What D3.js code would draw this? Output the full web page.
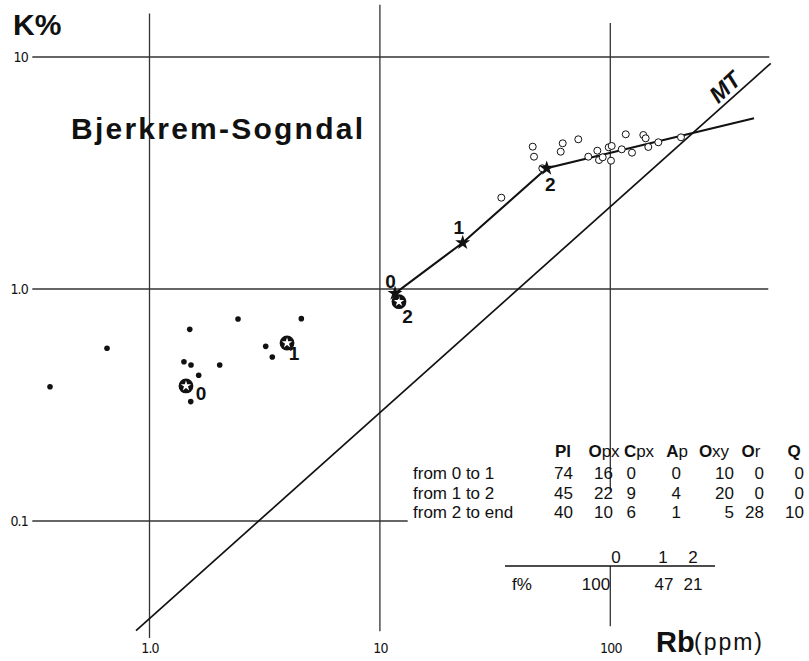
<!DOCTYPE html>
<html>
<head>
<meta charset="utf-8">
<script src="https://cdn.jsdelivr.net/npm/d3@7"></script>
<style>
  body { margin: 0; background: #fff; }
  svg { display: block; font-family: "Liberation Sans", Arial, sans-serif; }
</style>
</head>
<body>
<div id="chart"></div>
<script>
const width = 809, height = 661;

// axes
const xTicks = [1, 10, 100];
const xTickLabels = ["1.0", "10", "100"];
const yTicks = [0.1, 1, 10];
const yTickLabels = ["0.1", "1.0", "10"];

// filled dots (Rb ppm, K %)
const dotRb = [0.370, 0.654, 1.495, 1.411, 1.514, 1.635, 1.510, 2.017, 2.422, 3.194, 3.412, 4.560];
const dotK  = [0.379, 0.555, 0.670, 0.486, 0.470, 0.425, 0.327, 0.470, 0.743, 0.566, 0.509, 0.745];

// open circles
const circRb = [46.05, 46.65, 62.15, 60.92, 72.62, 33.65, 50.68, 80.27, 87.83, 89.33, 92.69,
                98.42, 101.4, 100.7, 112.1, 116.7, 124.2, 139.1, 142.4, 146.2, 161.6, 202.7];
const circK  = [4.107, 3.718, 4.246, 3.907, 4.418, 2.475, 3.313, 3.718, 3.946, 3.597, 3.696,
                4.082, 4.135, 3.573, 4.001, 4.643, 3.869, 4.611, 4.462, 4.094, 4.289, 4.507];

// differentiation path, first three points are the stars 0, 1, 2
const pathRb = [11.63, 22.88, 52.97, 120.9, 420.5];
const pathK  = [0.958, 1.583, 3.313, 4.042, 5.442];
const starLabels = ["0", "1", "2"];

// open stars
const openRb = [1.440, 3.953, 12.10];
const openK  = [0.382, 0.585, 0.882];
const openLabels = ["0", "1", "2"];

// MT line
const mtRb = [0.874, 496.9];
const mtK  = [0.0337, 9.39];

// table
const minerals = ["Pl", "Opx", "Cpx", "Ap", "Oxy", "Or", "Q"];
const stages = ["from 0 to 1", "from 1 to 2", "from 2 to end"];
const modes = [
  [74, 16, 0, 0, 10, 0, 0],
  [45, 22, 9, 4, 20, 0, 0],
  [40, 10, 6, 1, 5, 28, 10]
];
const fStages = ["0", "1", "2"];
const fValues = [100, 47, 21];

const svg = d3.select("#chart").append("svg")
  .attr("width", width)
  .attr("height", height);

const x = d3.scaleLog().domain([1, 100]).range([149.5, 610.3]);
const y = d3.scaleLog().domain([0.1, 10]).range([521, 57]);

const ink = "#111";

// grid lines (extents in data units)
const hGrid = [
  {k: 10, from: 0.31, to: 490},
  {k: 1, from: 0.31, to: 485},
  {k: 0.1, from: 0.31, to: 13.2}
];
const vGrid = [
  {rb: 1, segs: [[0.0313, 15.4]]},
  {rb: 10, segs: [[0.0335, 16.8]]},
  {rb: 100, segs: [[0.0352, 0.064], [0.135, 14.0]]}
];

svg.append("g").selectAll("line")
  .data(hGrid)
  .join("line")
  .attr("x1", d => x(d.from))
  .attr("x2", d => x(d.to))
  .attr("y1", d => y(d.k))
  .attr("y2", d => y(d.k))
  .attr("stroke", "#333")
  .attr("stroke-width", 1.3);

vGrid.forEach(v => {
  svg.append("g").selectAll("line")
    .data(v.segs)
    .join("line")
    .attr("x1", x(v.rb))
    .attr("x2", x(v.rb))
    .attr("y1", d => y(d[0]))
    .attr("y2", d => y(d[1]))
    .attr("stroke", "#333")
    .attr("stroke-width", 1.3);
});

// tick labels via axes
const tickFont = "\"Liberation Sans Narrow\", \"DejaVu Sans Condensed\", sans-serif";

svg.append("g")
  .attr("transform", "translate(0,643)")
  .call(d3.axisBottom(x).tickValues(xTicks).tickFormat((d, i) => xTickLabels[i]).tickSize(0).tickPadding(0))
  .call(g => g.select(".domain").remove())
  .selectAll("text")
  .attr("fill", ink)
  .style("font-family", tickFont)
  .style("font-size", "14px")
  .style("letter-spacing", "-0.8px");

svg.append("g")
  .attr("transform", "translate(28,0)")
  .call(d3.axisLeft(y).tickValues(yTicks).tickFormat((d, i) => yTickLabels[i]).tickSize(0).tickPadding(0))
  .call(g => g.select(".domain").remove())
  .selectAll("text")
  .attr("fill", ink)
  .style("font-family", tickFont)
  .style("font-size", "14px")
  .style("letter-spacing", "-0.8px");

// axis titles
svg.append("text")
  .attr("x", 13)
  .attr("y", 35)
  .attr("fill", ink)
  .style("font-size", "30px")
  .style("font-weight", "bold")
  .text("K%");

svg.append("text")
  .attr("x", 656)
  .attr("y", 652)
  .attr("fill", ink)
  .style("font-size", "29px")
  .style("font-weight", "bold")
  .text("Rb");

svg.append("text")
  .attr("x", 694)
  .attr("y", 650)
  .attr("fill", ink)
  .attr("textLength", 68)
  .attr("lengthAdjust", "spacing")
  .style("font-size", "23px")
  .text("(ppm)");

// title
svg.append("text")
  .attr("x", 71)
  .attr("y", 139)
  .attr("fill", ink)
  .attr("textLength", 292)
  .attr("lengthAdjust", "spacing")
  .style("font-size", "30px")
  .style("font-weight", "bold")
  .text("Bjerkrem-Sogndal");

// MT line
const line = d3.line().x(d => x(d[0])).y(d => y(d[1]));

svg.append("path")
  .attr("d", line(d3.zip(mtRb, mtK)))
  .attr("fill", "none")
  .attr("stroke", ink)
  .attr("stroke-width", 1.7);

svg.append("text")
  .attr("transform", "translate(725,87) rotate(-43)")
  .attr("text-anchor", "middle")
  .attr("dy", "0.35em")
  .attr("fill", ink)
  .style("font-size", "23px")
  .style("font-weight", "bold")
  .style("font-style", "italic")
  .text("MT");

// filled dots
svg.append("g").selectAll("circle")
  .data(d3.zip(dotRb, dotK))
  .join("circle")
  .attr("cx", d => x(d[0]))
  .attr("cy", d => y(d[1]))
  .attr("r", 2.8)
  .attr("fill", ink);

// open stars
const openG = svg.append("g").selectAll("g")
  .data(d3.zip(openRb, openK, openLabels))
  .join("g")
  .attr("transform", d => `translate(${x(d[0])},${y(d[1])})`);

openG.append("circle")
  .attr("r", 7.4)
  .attr("fill", ink);

openG.append("path")
  .attr("d", d3.symbol(d3.symbolStar).size(34))
  .attr("fill", "#fff");

const openLabelOffset = [[15, 14], [7, 17], [8.5, 21]];
openG.append("text")
  .attr("x", (d, i) => openLabelOffset[i][0])
  .attr("y", (d, i) => openLabelOffset[i][1])
  .attr("text-anchor", "middle")
  .attr("fill", ink)
  .style("font-size", "19px")
  .style("font-weight", "bold")
  .text(d => d[2]);

// differentiation path
svg.append("path")
  .attr("d", line(d3.zip(pathRb, pathK)))
  .attr("fill", "none")
  .attr("stroke", ink)
  .attr("stroke-width", 2.1);

// open circles
svg.append("g").selectAll("circle")
  .data(d3.zip(circRb, circK))
  .join("circle")
  .attr("cx", d => x(d[0]))
  .attr("cy", d => y(d[1]))
  .attr("r", 3.5)
  .attr("fill", "#fff")
  .attr("stroke", ink)
  .attr("stroke-width", 1);

// filled stars
const starG = svg.append("g").selectAll("g")
  .data(d3.zip(pathRb.slice(0, 3), pathK.slice(0, 3), starLabels))
  .join("g")
  .attr("transform", d => `translate(${x(d[0])},${y(d[1])})`);

starG.append("path")
  .attr("d", d3.symbol(d3.symbolStar).size(70))
  .attr("fill", ink);

const starLabelOffset = [[-4.5, -5], [-4, -9], [3.5, 23]];
starG.append("text")
  .attr("x", (d, i) => starLabelOffset[i][0])
  .attr("y", (d, i) => starLabelOffset[i][1])
  .attr("text-anchor", "middle")
  .attr("fill", ink)
  .style("font-size", "19px")
  .style("font-weight", "bold")
  .text(d => d[2]);

// modal composition table
const colRight = [573, 613, 636, 681, 734, 764, 804];
const headCenter = [563, 604, 639, 677, 714, 751, 794];
const rowBase = [479, 499, 518];

const table = svg.append("g")
  .attr("fill", ink)
  .style("font-size", "17px");

const head = table.selectAll(".head")
  .data(minerals)
  .join("text")
  .attr("class", "head")
  .attr("x", (d, i) => headCenter[i])
  .attr("y", 457)
  .attr("text-anchor", "middle");

head.append("tspan")
  .style("font-weight", "bold")
  .text(d => d[0]);

head.append("tspan")
  .style("font-weight", d => d === "Pl" ? "bold" : "normal")
  .text(d => d.slice(1));

table.selectAll(".stage")
  .data(stages)
  .join("text")
  .attr("class", "stage")
  .attr("x", 413)
  .attr("y", (d, i) => rowBase[i])
  .text(d => d);

modes.forEach((row, r) => {
  table.append("g").selectAll("text")
    .data(row)
    .join("text")
    .attr("x", (d, i) => colRight[i])
    .attr("y", rowBase[r])
    .attr("text-anchor", "end")
    .text(d => d);
});

// f% table
const fHeadX = [616, 663, 693];
const fValX = [596, 664, 693];

table.selectAll(".fhead")
  .data(fStages)
  .join("text")
  .attr("class", "fhead")
  .attr("x", (d, i) => fHeadX[i])
  .attr("y", 563)
  .attr("text-anchor", "middle")
  .text(d => d);

svg.append("line")
  .attr("x1", 505)
  .attr("x2", 715)
  .attr("y1", 566)
  .attr("y2", 566)
  .attr("stroke", ink)
  .attr("stroke-width", 1.3);

table.append("text")
  .attr("x", 522)
  .attr("y", 590)
  .attr("text-anchor", "middle")
  .text("f%");

table.selectAll(".fval")
  .data(fValues)
  .join("text")
  .attr("class", "fval")
  .attr("x", (d, i) => fValX[i])
  .attr("y", 590)
  .attr("text-anchor", "middle")
  .text(d => d);
</script>
</body>
</html>
